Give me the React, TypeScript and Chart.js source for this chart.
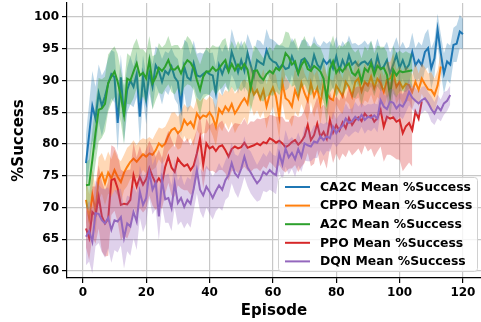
import React, { useEffect, useRef } from "react";
import { Chart, registerables } from "chart.js";

Chart.register(...registerables);

const seriesNames = [
  "CA2C Mean %Success",
  "CPPO Mean %Success",
  "A2C Mean %Success",
  "PPO Mean %Success",
  "DQN Mean %Success",
];
const seriesColors = ["#1f77b4", "#ff7f0e", "#2ca02c", "#d62728", "#9467bd"];
const bandColors = [
  "rgba(31,119,180,0.3)",
  "rgba(255,127,14,0.3)",
  "rgba(44,160,44,0.3)",
  "rgba(214,39,40,0.3)",
  "rgba(148,103,189,0.3)",
];

const xTicks = [0, 20, 40, 60, 80, 100, 120];
const yTicks = [60, 65, 70, 75, 80, 85, 90, 95, 100];

// CA2C, episodes 1..120
const ca2cMean = [
  77, 81.5, 86, 84, 88, 86, 87.5, 89.5, 91, 90.5,
  83.3, 90.5, 84.3, 88.5, 90, 89, 91, 84.3, 90.6, 86.9,
  91.2, 89, 92.4, 91.5, 89.8, 91.5, 91, 92.2, 90.5, 89.8,
  85.9, 92.2, 90.5, 90.1, 92.7, 90.8, 90.6, 91, 91.4, 91,
  90.8, 88, 92.4, 91, 92.4, 91.5, 94.5, 93, 91.3, 93.2,
  91.5, 94.3, 92.4, 90.6, 93.2, 92.8, 92.5, 94.8, 93.5, 93,
  92.8, 91.9, 92.5, 91.8, 92, 93.8, 92.5, 91.1, 93.2, 93.5,
  92.8, 91.7, 94, 92.5, 91.9, 93.3, 92.6, 93.2, 91.9, 93.8,
  91.6, 93.2, 92, 94, 92.5, 93, 92.3, 92.8, 93, 92.5,
  93.2, 91.4, 93.8, 91.8, 92.2, 93.2, 91.1, 92.5, 94, 92,
  93.2, 91.8, 92.5, 94.5, 92.4, 93.2, 92.4, 94.5, 95.1, 91.9,
  93.5, 98, 94.3, 91.1, 93, 92.5, 95.6, 95.8, 97.7, 97.3,
];
const ca2cStd = [
  4.5, 5, 5.5, 5, 4.5, 4.8, 4.2, 4, 3.8, 4,
  4.5, 3.6, 4.2, 3.5, 3.8, 3.2, 3.6, 4.2, 3.4, 3.8,
  3.2, 3.5, 3.0, 3.4, 3.6, 3.1, 3.3, 2.9, 3.4, 3.6,
  4.8, 4.2, 5.5, 4.0, 3.6, 3.4, 3.8, 3.2, 3.5, 3.3,
  3.6, 4.2, 3.2, 3.5, 3.3, 3.0, 3.6, 3.2, 3.4, 3.1,
  3.3, 3.0, 3.5, 3.8, 3.2, 3.4, 3.0, 3.3, 3.1, 3.4,
  3.2, 3.6, 3.0, 3.4, 3.2, 2.9, 3.3, 3.5, 3.1, 3.0,
  3.2, 3.4, 3.0, 3.3, 3.5, 2.9, 3.2, 3.0, 3.4, 3.1,
  3.3, 3.0, 3.4, 3.1, 3.3, 2.9, 3.2, 3.0, 3.3, 3.1,
  3.0, 3.4, 2.8, 3.2, 3.0, 2.9, 3.3, 3.0, 2.8, 3.1,
  2.9, 3.2, 2.8, 3.0, 2.7, 2.9, 3.1, 2.8, 3.0, 3.2,
  2.8, 2.5, 3.0, 3.2, 2.9, 3.0, 2.7, 2.9, 2.6, 2.4,
];

// CPPO, episodes 1..113
const cppoMean = [
  71.2, 68.3, 72, 69.5, 74.5, 75.4, 73.8, 75.5, 74.6, 75.9,
  74.8, 74, 75.5, 76.4, 77.2, 77.7, 77.2, 77.8, 78.4, 78,
  78.5, 78.3, 79, 80.1, 79.6, 80.1, 81.3, 82.2, 82.5, 81.7,
  82.2, 83.8, 83, 83.5, 82.6, 84.8, 84, 84.5, 84.3, 85,
  84.2, 82.7, 85.5, 84.8, 85.9, 85.2, 86.3, 84.8, 85.6, 86.5,
  87.2, 86.3, 89.3, 87.8, 88.5, 87.1, 88.5, 85.9, 87.8, 88.9,
  87.4, 84.3, 89.6, 87.2, 86.8, 85.9, 88.5, 87.2, 89.6, 88,
  86.8, 89.6, 87.5, 88.8, 86.3, 89.5, 88, 87.2, 86.9, 89.2,
  88.4, 87.5, 89.8, 89, 87.5, 89.8, 90.3, 88.3, 89.8, 89.2,
  90.6, 88.8, 90.3, 89.6, 88.2, 90.1, 90.3, 91.4, 89, 89.8,
  88.8, 89.5, 89.3, 88.2, 89.8, 88.5, 90.3, 89.4, 88.6, 88.5,
  87.7, 89.2, 92.2,
];
const cppoStd = [
  3.5, 3.8, 4.0, 3.6, 3.4, 3.2, 3.5, 3.3, 3.0, 3.2,
  3.0, 3.3, 2.8, 3.0, 2.7, 2.9, 2.6, 2.8, 2.5, 2.7,
  2.6, 2.4, 2.7, 2.5, 2.8, 2.6, 2.4, 2.7, 2.5, 2.6,
  2.8, 2.5, 2.7, 2.6, 2.9, 2.5, 2.7, 2.8, 2.6, 2.5,
  2.9, 3.0, 2.7, 2.8, 2.6, 3.0, 2.8, 3.1, 2.9, 3.2,
  3.0, 3.3, 3.1, 3.4, 3.2, 3.0, 3.3, 3.5, 3.2, 3.0,
  3.4, 3.6, 3.1, 3.3, 3.0, 3.2, 3.4, 3.0, 3.3, 3.1,
  3.2, 3.0, 3.3, 2.9, 3.2, 3.0, 2.8, 3.1, 3.0, 2.9,
  3.1, 2.8, 3.0, 2.7, 2.9, 2.8, 3.0, 2.6, 2.9, 2.7,
  2.8, 2.6, 2.9, 2.7, 2.5, 2.8, 2.6, 2.9, 2.7, 2.5,
  2.6, 2.8, 2.5, 2.7, 2.9, 2.6, 2.4, 2.7, 2.5, 2.8,
  2.6, 2.4, 2.2,
];

// A2C, episodes 1..104
const a2cMean = [
  73.5, 73.6, 77.5, 81.7, 85.4, 85.6, 86.3, 89.6, 90.6, 91.4,
  89.8, 87.5, 84.6, 90.3, 90, 91.4, 92.7, 90.8, 91.2, 90.3,
  93.2, 89.6, 90.5, 92, 91.5, 92.2, 93.2, 91.8, 91.7, 92.2,
  91.1, 92.4, 93.2, 92.8, 91.9, 90.1, 88.5, 90.6, 91.4, 91.4,
  92.1, 91.5, 91.9, 92.6, 93.2, 91.4, 92.6, 91.6, 92.5, 91.8,
  92.6, 91.7, 88.8, 91.5, 91.6, 90.6, 90.1, 91, 91.5, 91.1,
  92, 91.6, 92.4, 94.3, 93.7, 92.5, 93, 91.1, 92.4, 93.2,
  91.8, 91.5, 92.3, 91.9, 91.4, 90.3, 86.9, 91.8, 93, 91.2,
  92, 91.4, 92.2, 92.7, 91.2, 90.8, 91.6, 89.8, 91.9, 91.4,
  92.7, 90.9, 92.3, 91.8, 92, 90.9, 87.5, 91.7, 90.8, 91.5,
  91.3, 91.4, 91.5, 91.6,
];
const a2cStd = [
  3.5, 4.0, 4.5, 4.8, 5.0, 4.6, 4.3, 4.5, 4.2, 4.0,
  4.4, 4.1, 4.6, 4.0, 3.8, 4.2, 3.9, 4.1, 3.7, 4.0,
  3.8, 4.2, 3.6, 3.9, 3.7, 3.5, 3.8, 3.6, 3.9, 3.4,
  3.7, 3.5, 3.8, 3.6, 3.4, 3.7, 4.0, 3.5, 3.8, 3.6,
  3.5, 3.8, 3.4, 3.7, 3.5, 3.3, 3.6, 3.4, 3.7, 3.5,
  3.6, 3.4, 3.8, 4.0, 3.5, 3.7, 3.4, 3.6, 3.8, 3.5,
  3.7, 3.9, 3.6, 3.4, 3.8, 3.5, 3.7, 3.9, 3.6, 3.8,
  3.6, 3.9, 3.7, 3.5, 3.8, 3.6, 4.0, 3.7, 4.1, 3.8,
  3.6, 3.9, 3.7, 3.5, 3.8, 3.6, 3.4, 3.7, 3.5, 3.3,
  3.6, 3.4, 3.2, 3.5, 3.3, 3.6, 3.4, 3.8, 3.5, 3.2,
  3.0, 3.2, 2.8, 2.6,
];

// PPO, episodes 1..107 (band ends at 104)
const ppoMean = [
  66.7, 65.2, 69.3, 68.8, 71.7, 68.6, 67.5, 68.2, 74.3, 74.5,
  73, 70.4, 70.6, 70.5, 71.2, 75.1, 73.3, 74.8, 73.6, 74.5,
  76.2, 74.9, 73.8, 74.6, 73.8, 76.4, 78, 76.3, 75.6, 77.7,
  77, 76.5, 76.8, 75.9, 76.6, 78.5, 80.9, 76.7, 80.1, 79.3,
  79.6, 78.9, 79.6, 79.8, 79, 78, 79.2, 79.6, 79.3, 79.5,
  80.2, 79.4, 79.6, 79.8, 80.1, 79.8, 80.3, 80.1, 80.9, 80.6,
  80.2, 80.5, 80.1, 79.5, 79.8, 80.3, 80.6, 79.9, 80.4, 81.2,
  83, 80.6, 81.4, 83.2, 81.1, 81.9, 80.8, 83.8, 81.8, 83,
  82.1, 83.4, 82.5, 84.1, 83, 83.8, 84.2, 83.6, 84.8, 84.2,
  84.5, 83.5, 84.1, 85.4, 82.7, 84.3, 84, 84.2, 83.5, 83.8,
  81.7, 82.8, 83.3, 82.2, 85.1, 84, 86.7,
];
const ppoStd = [
  3.0, 3.5, 4.0, 4.5, 5.0, 5.5, 5.2, 5.8, 5.5, 5.0,
  5.3, 5.6, 5.0, 5.4, 4.8, 5.1, 4.6, 4.9, 4.4, 4.7,
  4.3, 4.6, 4.2, 4.5, 4.0, 4.3, 4.1, 4.4, 3.9, 4.2,
  4.0, 3.8, 4.1, 3.9, 4.2, 3.8, 4.0, 3.7, 3.9, 3.6,
  3.8, 3.5, 3.7, 3.9, 3.6, 3.8, 3.5, 3.7, 3.9, 3.6,
  3.8, 3.6, 4.0, 3.7, 3.9, 4.1, 3.8, 4.0, 3.7, 3.9,
  4.1, 3.8, 4.2, 4.0, 3.7, 4.1, 3.9, 4.3, 4.0, 4.2,
  4.4, 4.1, 4.5, 4.2, 4.6, 4.3, 4.7, 4.4, 4.8, 4.5,
  4.7, 4.9, 4.6, 5.0, 4.8, 5.1, 4.9, 5.3, 5.0, 5.4,
  5.2, 5.6, 5.3, 5.8, 5.5, 6.0, 5.7, 6.2, 5.9, 6.3,
  6.0, 6.4, 6.2, 5.8,
];

// DQN, episodes 1..116
const dqnMean = [
  65.4, 66.3, 64.6, 69.1, 69, 68, 67.5, 68.4, 66.5, 68,
  67.8, 68.5, 65.2, 67.5, 67, 69.3, 67.8, 72.5, 70.4, 71.5,
  75.6, 72.8, 73.9, 68.6, 74.3, 71.3, 71.5, 69.9, 73.8, 70.7,
  71.5, 70.1, 71.2, 70.6, 73, 75.9, 72.8, 71.9, 73.3, 72.5,
  71.5, 72.6, 73.5, 72.8, 74.3, 75.1, 77, 75.4, 74.8, 76.1,
  78, 76.3, 75.5, 74.6, 73.8, 74.4, 75.6, 75.2, 75.9, 75.4,
  75.1, 78.5, 76.8, 79.3, 77.9, 78.6, 77.6, 79.2, 78, 80.1,
  79.8, 79.6, 80.4, 80.2, 81.2, 80.6, 81.2, 80.9, 82.7, 81.7,
  82.4, 82.9, 84, 83.3, 83.6, 84.3, 83.8, 84.6, 83.8, 84.3,
  84.1, 84.5, 84, 86.9, 85.9, 85.5, 86.7, 86.5, 85.6, 86.2,
  85.9, 86.8, 88.2, 87.3, 86.8, 86.4, 86.9, 87.2, 86.5, 85.5,
  84.8, 85.9, 85.3, 86.4, 86.8, 87.7,
];
const dqnStd = [
  4.5, 4.8, 5.0, 5.2, 4.6, 5.0, 5.4, 4.8, 5.2, 4.7,
  4.9, 4.5, 4.8, 4.4, 4.6, 4.2, 4.5, 4.1, 4.3, 4.0,
  4.2, 3.9, 4.1, 3.8, 4.0, 3.7, 3.9, 3.6, 3.8, 3.5,
  3.7, 3.4, 3.6, 3.8, 3.5, 3.7, 3.4, 3.6, 3.3, 3.5,
  3.4, 3.2, 3.5, 3.3, 3.1, 3.4, 3.2, 3.0, 3.3, 3.1,
  3.2, 3.0, 3.3, 3.1, 2.9, 3.2, 3.0, 2.8, 3.1, 2.9,
  3.0, 2.8, 2.6, 2.9, 2.7, 2.5, 2.8, 2.6, 2.4, 2.7,
  2.5, 2.3, 2.6, 2.4, 2.2, 2.5, 2.3, 2.1, 2.4, 2.2,
  2.3, 2.1, 2.4, 2.2, 2.0, 2.3, 2.1, 1.9, 2.2, 2.0,
  2.1, 1.9, 2.2, 2.0, 1.8, 2.1, 1.9, 2.2, 2.0, 1.8,
  2.0, 1.8, 2.1, 1.9, 2.0, 1.8, 2.1, 1.9, 1.7, 2.0,
  1.8, 1.9, 1.7, 1.8, 1.6, 1.5,
];

const means = [ca2cMean, cppoMean, a2cMean, ppoMean, dqnMean];
const stds = [ca2cStd, cppoStd, a2cStd, ppoStd, dqnStd];

const FONT = "'DejaVu Sans', sans-serif";

const overlayPlugin = {
  id: "overlay",
  afterDraw(chart: any) {
    const ctx = chart.ctx;
    const area = chart.chartArea;
    ctx.save();
    ctx.fillStyle = "#000";
    ctx.font = `bold 15px ${FONT}`;
    ctx.textAlign = "center";
    ctx.textBaseline = "middle";
    ctx.fillText("Episode", (area.left + area.right) / 2, 311);
    ctx.translate(19, (area.top + area.bottom) / 2);
    ctx.rotate(-Math.PI / 2);
    ctx.fillText("%Success", 0, 0);
    ctx.restore();

    // legend
    ctx.save();
    const bx = 278.5, by = 177.5, bw = 199, bh = 94, r = 3;
    ctx.beginPath();
    ctx.moveTo(bx + r, by);
    ctx.lineTo(bx + bw - r, by);
    ctx.quadraticCurveTo(bx + bw, by, bx + bw, by + r);
    ctx.lineTo(bx + bw, by + bh - r);
    ctx.quadraticCurveTo(bx + bw, by + bh, bx + bw - r, by + bh);
    ctx.lineTo(bx + r, by + bh);
    ctx.quadraticCurveTo(bx, by + bh, bx, by + bh - r);
    ctx.lineTo(bx, by + r);
    ctx.quadraticCurveTo(bx, by, bx + r, by);
    ctx.closePath();
    ctx.fillStyle = "rgba(255,255,255,0.8)";
    ctx.fill();
    ctx.strokeStyle = "#d0d0d0";
    ctx.lineWidth = 1;
    ctx.stroke();
    ctx.font = `bold 12.4px ${FONT}`;
    ctx.textAlign = "left";
    ctx.textBaseline = "middle";
    seriesNames.forEach((name, i) => {
      const y = 187 + i * 18.6;
      ctx.beginPath();
      ctx.moveTo(285, y);
      ctx.lineTo(310, y);
      ctx.strokeStyle = seriesColors[i];
      ctx.lineWidth = 2;
      ctx.stroke();
      ctx.fillStyle = "#000";
      ctx.fillText(name, 320, y + 0.5);
    });
    ctx.restore();
  },
};

export default function App() {
  const ref = useRef<HTMLCanvasElement | null>(null);

  useEffect(() => {
    if (!ref.current) return;
    const datasets: any[] = [];
    means.forEach((m, k) => {
      const s = stds[k];
      datasets.push({
        label: "lower" + k,
        data: s.map((sd, i) => ({ x: i + 1, y: m[i] - sd })),
        borderWidth: 0,
        pointRadius: 0,
        fill: false,
        order: 100 - 3 * k,
      });
      datasets.push({
        label: "upper" + k,
        data: s.map((sd, i) => ({ x: i + 1, y: m[i] + sd })),
        borderWidth: 0,
        pointRadius: 0,
        backgroundColor: bandColors[k],
        fill: "-1",
        order: 100 - 3 * k - 1,
      });
      datasets.push({
        label: seriesNames[k],
        data: m.map((v, i) => ({ x: i + 1, y: v })),
        borderColor: seriesColors[k],
        borderWidth: 2,
        pointRadius: 0,
        fill: false,
        tension: 0,
        order: 100 - 3 * k - 2,
      });
    });

    const tickFont = { family: FONT, size: 12, weight: "bold" as const };
    const chart = new Chart(ref.current, {
      type: "line",
      data: { datasets },
      options: {
        responsive: false,
        animation: false,
        devicePixelRatio: 1,
        layout: { padding: { top: 3, right: 0, left: 0, bottom: 0 } },
        plugins: {
          legend: { display: false },
          tooltip: { enabled: false },
        },
        scales: {
          x: {
            type: "linear",
            min: -5.0,
            max: 125.7,
            afterBuildTicks: (scale: any) => {
              scale.ticks = xTicks.map((v) => ({ value: v }));
            },
            afterFit: (scale: any) => {
              scale.height = 44;
              scale.paddingLeft = 0;
              scale.paddingRight = 0;
            },
            grid: {
              color: "#c8c8c8",
              lineWidth: 1.2,
              tickLength: 5,
              tickColor: "#000",
            },
            border: { color: "#000", width: 1.2 },
            ticks: { font: tickFont, color: "#000", padding: 3, maxRotation: 0 },
          },
          y: {
            type: "linear",
            min: 58.9,
            max: 102.2,
            afterBuildTicks: (scale: any) => {
              scale.ticks = yTicks.map((v) => ({ value: v }));
            },
            afterFit: (scale: any) => {
              scale.width = 67;
              scale.paddingTop = 0;
              scale.paddingBottom = 0;
            },
            grid: {
              color: "#c8c8c8",
              lineWidth: 1.2,
              tickLength: 5,
              tickColor: "#000",
            },
            border: { color: "#000", width: 1.2 },
            ticks: { font: tickFont, color: "#000", padding: 3 },
          },
        },
      },
      plugins: [overlayPlugin],
    });
    return () => chart.destroy();
  }, []);

  return (
    <div style={{ position: "fixed", left: 0, top: 0, width: 481, height: 322, background: "#fff" }}>
      <canvas ref={ref} width={481} height={322} style={{ display: "block", width: 481, height: 322 }} />
    </div>
  );
}
